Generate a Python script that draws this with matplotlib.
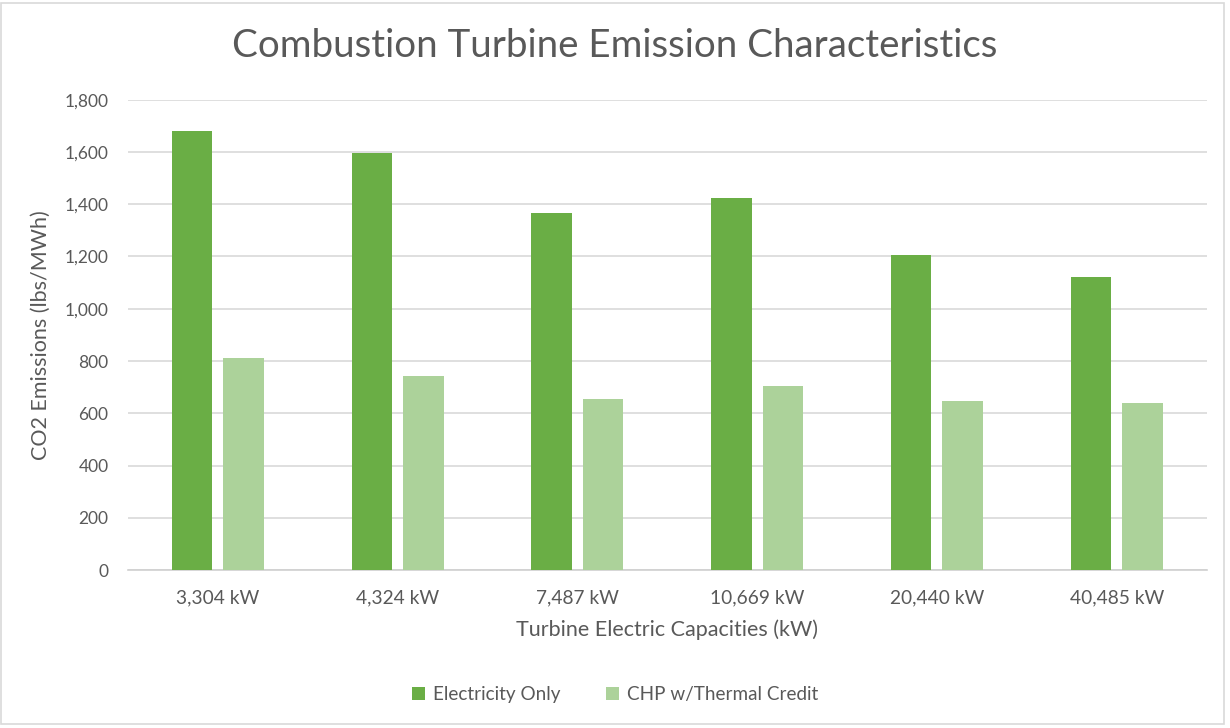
import numpy as np
import matplotlib.pyplot as plt
from matplotlib.patches import Rectangle

# turbine sizes and CO2 emission rates (lbs/MWh)
capacities = ["3,304 kW", "4,324 kW", "7,487 kW", "10,669 kW", "20,440 kW", "40,485 kW"]
electricity_only = [1682, 1597, 1366, 1422, 1204, 1121]
chp_thermal = [811, 741, 654, 706, 646, 639]

green_dark = "#6aae45"
green_light = "#acd29a"
text_grey = "#595959"

plt.rcParams['font.family'] = ['Lato', 'DejaVu Sans']

fig = plt.figure(figsize=(12.3, 7.28), dpi=100)
ax = fig.add_axes([0.104, 0.217, 0.877, 0.646])

x = np.arange(len(capacities))
w = 0.225
gap = 0.061
ax.bar(x - (w + gap) / 2, electricity_only, w, color=green_dark, label="Electricity Only", zorder=3)
ax.bar(x + (w + gap) / 2, chp_thermal, w, color=green_light, label="CHP w/Thermal Credit", zorder=3)

ax.set_xlim(-0.5, len(capacities) - 0.5)
ax.set_ylim(0, 1800)
ax.set_yticks(range(0, 1801, 200))
ax.set_yticklabels([f"{v:,}" for v in range(0, 1801, 200)])
ax.set_xticks(x)
ax.set_xticklabels(capacities)

ax.grid(axis="y", color="#d9d9d9", linewidth=1.2, zorder=0)
for s in ["top", "right", "left"]:
    ax.spines[s].set_visible(False)
ax.spines["bottom"].set_color("#d0d0d0")
ax.spines["bottom"].set_linewidth(1.2)
ax.tick_params(length=0, colors=text_grey)
ax.tick_params(axis="x", pad=14, labelsize=13.8)
ax.tick_params(axis="y", pad=14, labelsize=12.5)

ax.set_ylabel("CO2 Emissions (lbs/MWh)", color=text_grey, fontsize=15.5, labelpad=10)
ax.set_xlabel("Turbine Electric Capacities (kW)", color=text_grey, fontsize=15.5, labelpad=9)

fig.text(0.5, 0.937, "Combustion Turbine Emission Characteristics",
         ha="center", va="center", fontsize=27.7, color=text_grey)

fig.legend(loc="center", bbox_to_anchor=(0.5, 0.046), ncol=2, frameon=False,
           fontsize=13.6, labelcolor=text_grey, handlelength=0.7, handleheight=0.7,
           handletextpad=0.4, columnspacing=2.4)

# light outer frame of the chart area
fig.patches.append(Rectangle((0.001, 0.006), 0.994, 0.99, transform=fig.transFigure,
                             fill=False, edgecolor="#d9d9d9", linewidth=1.2))

fig.savefig("out.png", dpi=100)
